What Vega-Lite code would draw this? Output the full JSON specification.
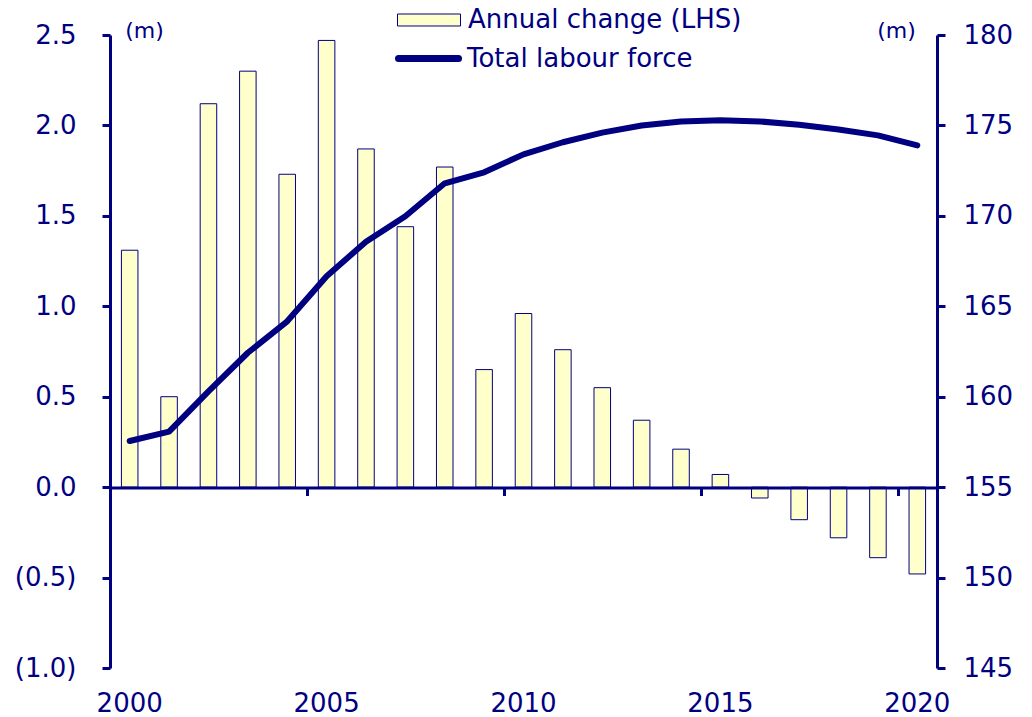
{
  "$schema": "https://vega.github.io/schema/vega-lite/v6.json",
  "width": 827,
  "height": 633,
  "autosize": {"type": "none"},
  "padding": {"left": 110, "top": 35, "right": 95, "bottom": 49},
  "background": "white",
  "config": {
    "font": "DejaVu Sans",
    "view": {"stroke": null},
    "axis": {"labelColor": "#000080", "domainColor": "#000080", "tickColor": "#000080", "titleColor": "#000080", "labelFont": "DejaVu Sans", "titleFont": "DejaVu Sans", "grid": false},
    "legend": {"labelColor": "#000080", "labelFont": "DejaVu Sans", "padding": 0, "labelLimit": 0}
  },
  "data": {"values": [
    {"year": 2000, "change": 1.31, "labour": 157.55},
    {"year": 2001, "change": 0.50, "labour": 158.07},
    {"year": 2002, "change": 2.12, "labour": 160.3},
    {"year": 2003, "change": 2.30, "labour": 162.43},
    {"year": 2004, "change": 1.73, "labour": 164.17},
    {"year": 2005, "change": 2.47, "labour": 166.66},
    {"year": 2006, "change": 1.87, "labour": 168.57},
    {"year": 2007, "change": 1.44, "labour": 169.98},
    {"year": 2008, "change": 1.77, "labour": 171.8},
    {"year": 2009, "change": 0.65, "labour": 172.41},
    {"year": 2010, "change": 0.96, "labour": 173.4},
    {"year": 2011, "change": 0.76, "labour": 174.07},
    {"year": 2012, "change": 0.55, "labour": 174.6},
    {"year": 2013, "change": 0.37, "labour": 175.0},
    {"year": 2014, "change": 0.21, "labour": 175.22},
    {"year": 2015, "change": 0.07, "labour": 175.28},
    {"year": 2016, "change": -0.06, "labour": 175.22},
    {"year": 2017, "change": -0.18, "labour": 175.04},
    {"year": 2018, "change": -0.28, "labour": 174.77},
    {"year": 2019, "change": -0.39, "labour": 174.45},
    {"year": 2020, "change": -0.48, "labour": 173.9}
  ]},
  "layer": [
    {
      "mark": {"type": "bar", "stroke": "#000080", "strokeWidth": 1},
      "encoding": {
        "x": {"field": "year", "type": "ordinal",
          "scale": {"type": "band", "paddingInner": 0.58, "paddingOuter": 0.29},
          "axis": {"orient": "bottom", "offset": -180.5, "values": [2000, 2005, 2010, 2015, 2020], "bandPosition": 0, "tickOffset": -11.4, "labels": false, "tickSize": 8, "tickWidth": 3, "domainWidth": 3, "title": null, "zindex": 1}},
        "y": {"field": "change", "type": "quantitative",
          "scale": {"domain": [-1, 2.5], "nice": false, "zero": false},
          "axis": {"orient": "left", "values": [-1, -0.5, 0, 0.5, 1, 1.5, 2, 2.5],
            "labelExpr": "datum.value < 0 ? '(' + format(-datum.value, '.1f') + ')' : format(datum.value, '.1f')",
            "labelFontSize": 26, "labelPadding": 26, "tickSize": 8, "tickWidth": 3, "domainWidth": 3,
            "title": "(m)", "titleAngle": 0, "titleX": 34, "titleY": -5, "titleFontSize": 22, "titleFontWeight": "normal", "titleAlign": "center", "titleBaseline": "middle", "labelOverlap": false}},
        "color": {"datum": "Annual change (LHS)", "scale": {"range": ["#FFFFCC"]},
          "legend": {"orient": "none", "legendX": 287, "legendY": -47, "title": null, "symbolType": "M-1,-0.19H1V0.19H-1Z", "symbolSize": 3969, "symbolStrokeColor": "#000080", "symbolStrokeWidth": 1, "symbolFillColor": "#FFFFCC", "labelFontSize": 26, "labelOffset": 7}}
      }
    },
    {
      "mark": {"type": "line", "strokeWidth": 6, "strokeCap": "round", "strokeJoin": "round"},
      "encoding": {
        "x": {"field": "year", "type": "ordinal",
          "scale": {"type": "band", "paddingInner": 0.58, "paddingOuter": 0.29},
          "axis": {"orient": "bottom", "values": [2000, 2005, 2010, 2015, 2020], "bandPosition": 0.5, "ticks": false, "domain": false, "labelPadding": 22, "labelFontSize": 26, "labelAngle": 0, "labelBaseline": "top", "title": null}},
        "y": {"field": "labour", "type": "quantitative",
          "scale": {"domain": [145, 180], "nice": false, "zero": false},
          "axis": {"orient": "right", "values": [145, 150, 155, 160, 165, 170, 175, 180], "format": "d",
            "labelFontSize": 26, "labelPadding": 18, "tickSize": 8, "tickWidth": 3, "domainWidth": 3,
            "title": "(m)", "titleAngle": 0, "titleX": -41, "titleY": -5, "titleFontSize": 22, "titleFontWeight": "normal", "titleAlign": "center", "titleBaseline": "middle", "labelOverlap": false}},
        "stroke": {"datum": "Total labour force", "scale": {"range": ["#000080"]},
          "legend": {"orient": "none", "legendX": 285, "legendY": -10, "title": null, "symbolType": "stroke", "symbolSize": 3600, "symbolStrokeWidth": 7, "symbolStrokeColor": "#000080", "labelFontSize": 26, "labelOffset": 5,
            "encode": {"symbols": {"update": {"strokeCap": {"value": "round"}}}}}}
      }
    }
  ],
  "resolve": {"scale": {"y": "independent"}, "axis": {"x": "independent"}}
}
